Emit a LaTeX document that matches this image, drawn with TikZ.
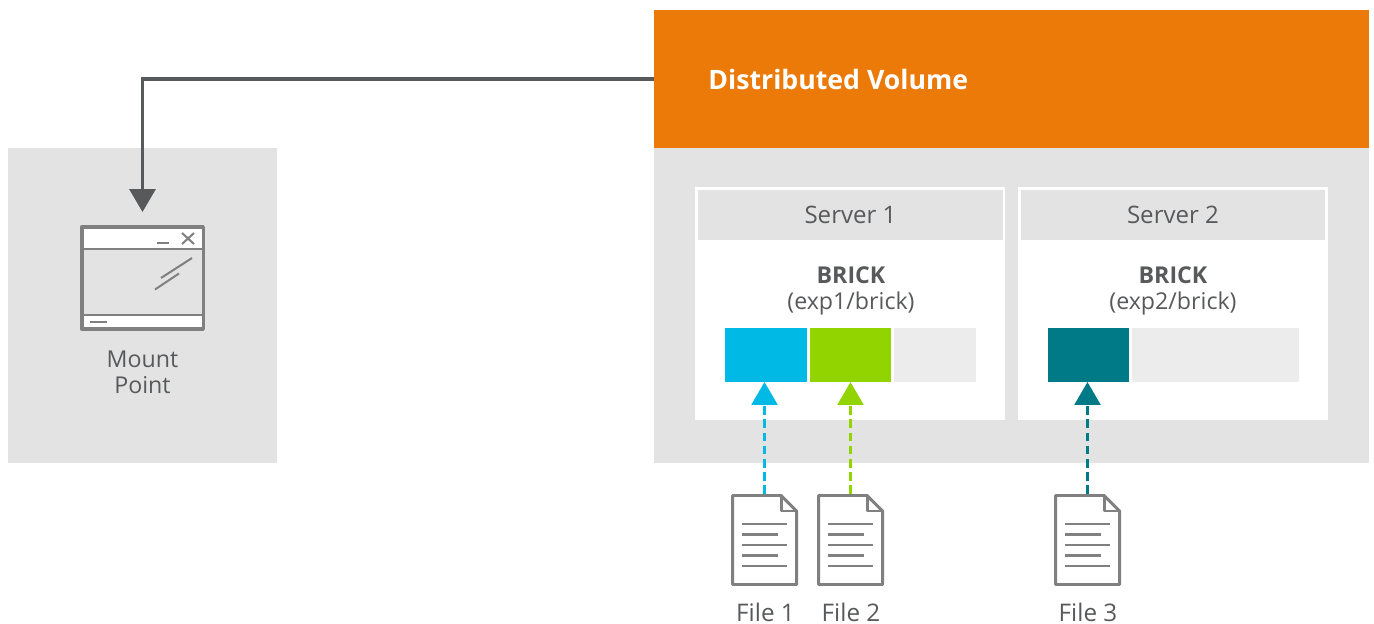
\documentclass[tikz,border=0pt]{standalone}
\usepackage{fontspec}
\setmainfont{Open Sans}
\usetikzlibrary{arrows.meta}
\definecolor{volorange}{HTML}{EC7A08}
\definecolor{panelgray}{HTML}{E3E3E3}
\definecolor{slotgray}{HTML}{ECECEC}
\definecolor{textgray}{HTML}{58595B}
\definecolor{icongray}{HTML}{808080}
\definecolor{fileblue}{HTML}{00B9E4}
\definecolor{filegreen}{HTML}{92D400}
\definecolor{fileteal}{HTML}{007A87}
\begin{document}
\begin{tikzpicture}[x=0.02cm, y=-0.02cm,
box node/.style={rectangle,inner sep=0pt,outer sep=0pt,minimum width=#1},
panel node/.style={box node=5.38cm,minimum height=6.3cm,fill=panelgray},
head node/.style={box node=6.1cm,minimum height=1cm,fill=panelgray,text=textgray,font=\fontsize{13.7}{15}\selectfont},
server node/.style={box node=6.2cm,minimum height=4.66cm,fill=white},
slot node/.style={box node=#1,minimum height=1.08cm},
label node/.style={inner sep=0pt,outer sep=0pt,align=center,text=textgray,font=\fontsize{13.2}{14.7}\selectfont},
file label/.style={inner sep=0pt,outer sep=0pt,text=textgray,font=\fontsize{13.8}{15}\selectfont},
file node/.style={box node=1.34cm,minimum height=1.84cm},
file line/.style={line width=1.7pt,draw=icongray,line join=round,line cap=round},
text line/.style={line width=1.15pt,draw=icongray},
store arrow/.style={line width=1.5pt,dash pattern=on 5pt off 2.5pt,-{Triangle[width=14.7pt,length=13pt]}}]
\useasboundingbox (0,0) rectangle (1374,624);
\begin{scope}
\node[panel node] (mount) at (142.5,305.5) {};
\node[box node=14.3cm,minimum height=6.3cm,fill=panelgray] (volbody) at (1011.5,305.5) {};
\node[box node=14.3cm,minimum height=2.76cm,fill=volorange] (volume) at (1011.5,79) {};
\node[anchor=west,inner sep=0pt,text=white,font=\fontsize{15.2}{18}\selectfont\bfseries] (voltitle) at (708,79) {Distributed Volume};
\end{scope}
\begin{scope}
\node[server node] (server1) at (850,303.5) {};
\node[server node] (server2) at (1173,303.5) {};
\node[head node] (head1) at (850.5,215) {Server 1};
\node[head node] (head2) at (1173,215) {Server 2};
\node[label node] (brick1) at (851,291) {\textbf{BRICK}\\(exp1/brick)};
\node[label node] (brick2) at (1173,291) {\textbf{BRICK}\\(exp2/brick)};
\node[slot node=1.64cm,fill=fileblue] (slot1) at (766,355) {};
\node[slot node=1.62cm,fill=filegreen] (slot2) at (850.5,355) {};
\node[slot node=1.64cm,fill=slotgray] (slot3) at (935,355) {};
\node[slot node=1.62cm,fill=fileteal] (slot4) at (1088.5,355) {};
\node[slot node=3.34cm,fill=slotgray] (slot5) at (1215.5,355) {};
\end{scope}
\begin{scope}
\node[box node=2.5cm,minimum height=2.12cm] (window) at (142.5,278) {};
\node[file node] (file1) at (764.5,540) {};
\node[file node] (file2) at (850.5,540) {};
\node[file node] (file3) at (1087.5,540) {};
\node[label node] (mountlabel) at (142.5,372) {Mount\\Point};
\node[file label] (label1) at (765.5,612) {File 1};
\node[file label] (label2) at (851,612) {File 2};
\node[file label] (label3) at (1088,612) {File 3};
\end{scope}
% window icon
\begin{scope}[shift={(window.north west)}]
\fill[white] (2,2) rectangle (123,104);
\fill[panelgray] (2,24) rectangle (123,90);
\draw[line width=2pt,draw=icongray,line join=round] (1.75,1.75) rectangle (123.25,104.25);
\draw[line width=1.7pt,draw=icongray] (0,24) -- (125,24);
\draw[line width=1.7pt,draw=icongray] (0,90) -- (125,90);
\draw[text line] (77,18) -- (89,18);
\draw[text line] (102,8) -- (114,19);
\draw[text line] (114,8) -- (102,19);
\draw[text line] (81,53) -- (112,33);
\draw[text line] (75,64.5) -- (99,48.5);
\draw[text line] (10,97) -- (27,97);
\end{scope}
% file icons
\foreach \f in {file1,file2,file3}{
\begin{scope}[shift={(\f.north west)}]
\draw[file line,fill=white] (1.5,1.5) -- (50,1.5) -- (65.5,17) -- (65.5,90.5) -- (1.5,90.5) -- cycle;
\draw[file line] (50,1.5) -- (50,17) -- (65.5,17);
\draw[text line] (11,30) -- (56,30);
\draw[text line] (11,40.5) -- (47,40.5);
\draw[text line] (11,51) -- (56,51);
\draw[text line] (11,61.5) -- (47,61.5);
\draw[text line] (11,72) -- (56,72);
\end{scope}
}
\begin{scope}
\draw[line width=1.9pt,draw=textgray,shorten >=13*0.02cm,-{Triangle[width=14.7pt,length=13pt]}] (volume.west) -| (window.north);
\draw[store arrow,draw=fileblue] (file1.north) -- (file1.north |- slot1.south);
\draw[store arrow,draw=filegreen] (file2.north) -- (file2.north |- slot2.south);
\draw[store arrow,draw=fileteal] (file3.north) -- (file3.north |- slot4.south);
\end{scope}
\end{tikzpicture}
\end{document}
